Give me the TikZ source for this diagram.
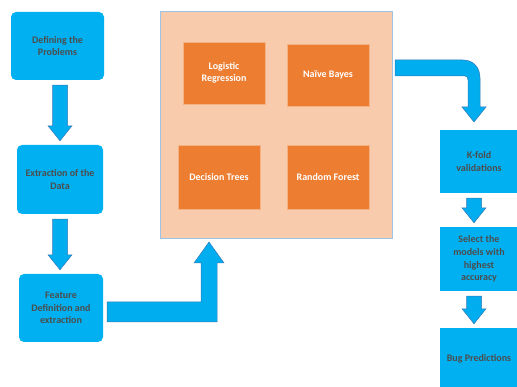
\documentclass[tikz,border=0pt]{standalone}
\usepackage{fontspec}
\setmainfont{Carlito}[BoldFont={Carlito Bold}]
\usetikzlibrary{calc}
\definecolor{boxblue}{HTML}{00B0F0}
\definecolor{arrowblue}{HTML}{00AEEF}
\definecolor{arrowedge}{HTML}{3A78B8}
\definecolor{peach}{HTML}{F8CBAD}
\definecolor{peachedge}{HTML}{9DC3E6}
\definecolor{morange}{HTML}{ED7D31}
\definecolor{oedge}{HTML}{F4B183}
\definecolor{dgray}{HTML}{4D4D4D}
\tikzset
{
    % Style for the rounded boxes of the left column
    stage/.style=
    {
        fill=boxblue,
        rounded corners=5pt,
        text=dgray,
        font=\bfseries\fontsize{10}{12.6}\selectfont,
        align=center,
        inner sep=0pt
    },
    % Style for the square boxes of the right column
    result/.style=
    {
        stage,
        rounded corners=0pt
    },
    % Style for the large box that holds the models
    model frame/.style=
    {
        fill=peach,
        draw=peachedge,
        line width=0.8pt
    },
    % Style for a single model
    model/.style=
    {
        fill=morange,
        draw=oedge,
        line width=0.6pt,
        text=white,
        font=\bfseries\fontsize{10}{12.6}\selectfont,
        align=center,
        minimum width=82pt,
        inner sep=0pt
    },
    % Style for the block arrows
    flow arrow/.style=
    {
        fill=arrowblue,
        draw=arrowedge,
        line width=0.5pt
    }
}
% Block arrow pointing down from one node to the next
% #1 source node, #2 target node, #3 shift of the arrow against the target centre
\newcommand{\flowdown}[3]
{
    \path[flow arrow] let \p1=(#1.south), \p2=(#2.north) in
        (\x2+#3pt-7.5pt,\y1-5pt) -- (\x2+#3pt+7.5pt,\y1-5pt)
        -- (\x2+#3pt+7.5pt,\y2+19pt) -- (\x2+#3pt+12pt,\y2+19pt)
        -- (\x2+#3pt,\y2+4pt)
        -- (\x2+#3pt-12pt,\y2+19pt) -- (\x2+#3pt-7.5pt,\y2+19pt) -- cycle;
}

\begin{document}
\begin{tikzpicture}[x=1pt,y=-1pt]
    % Fix the size of the picture
    \useasboundingbox (0,0) rectangle (517,387);

    % Left column
    \node (define) [stage,minimum width=93pt,minimum height=68pt] at (57.5,46) {Defining the\\Problems};
    \node (extract) [stage,minimum width=86pt,minimum height=69pt] at (60,179.5) {Extraction of the\\Data};
    \node (feature) [stage,minimum width=84pt,minimum height=68pt] at (61,308) {Feature\\Definition and\\extraction};

    \flowdown{define}{extract}{0}
    \flowdown{extract}{feature}{-1}

    % Models
    \node (models) [model frame,minimum width=232pt,minimum height=227pt] at (276,124.5) {};
    \node (logit) [model,minimum height=62pt] at (224,73) {Logistic\\Regression};
    \node (bayes) [model,minimum height=62pt] at (328,75) {Naïve Bayes};
    \node (trees) [model,minimum height=64pt] at (219,177) {Decision Trees};
    \node (forest) [model,minimum height=64pt] at (328,177) {Random Forest};

    %% Arrow from the features up into the models
    \path[flow arrow] (107,302) -- (201,302) -- (201,263) -- (194,263) -- (209,242)
        -- (224,263) -- (217,263) -- (217,322) -- (107,322) -- cycle;

    %% Arrow from the models down to the validation
    \path[flow arrow] (395,60) -- (463,60) .. controls (473,60) and (480,67) .. (480,78)
        -- (480,107) -- (486,107) -- (474,122) -- (462,107) -- (468,107)
        -- (468,80) .. controls (468,77.5) and (467,76) .. (465,76) -- (395,76) -- cycle;

    % Right column
    \node (kfold) [result,minimum width=78pt,minimum height=63pt] at (479,161.5) {K-fold\\validations};
    \node (select) [result,minimum width=78pt,minimum height=64pt] at (479,259) {Select the\\models with\\highest\\accuracy};
    \node (bug) [result,minimum width=78pt,minimum height=62pt] at (479,359) {Bug Predictions};

    \flowdown{kfold}{select}{-5}
    \flowdown{select}{bug}{-5}
\end{tikzpicture}
\end{document}
